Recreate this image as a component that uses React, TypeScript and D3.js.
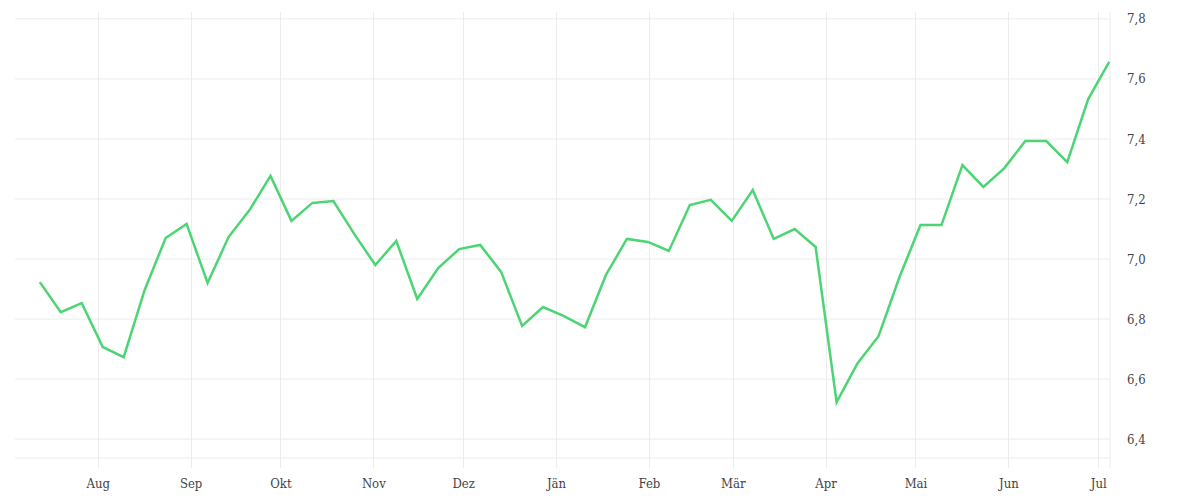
import * as d3 from 'd3'

// weekly readings, Jul 2022 – Jul 2023
const dates = [
  '2022-07-12', '2022-07-19', '2022-07-26', '2022-08-02', '2022-08-09', '2022-08-16', '2022-08-23', '2022-08-30',
  '2022-09-06', '2022-09-13', '2022-09-20', '2022-09-27', '2022-10-04', '2022-10-11', '2022-10-18', '2022-10-25',
  '2022-11-01', '2022-11-08', '2022-11-15', '2022-11-22', '2022-11-29', '2022-12-06', '2022-12-13', '2022-12-20',
  '2022-12-27', '2023-01-03', '2023-01-10', '2023-01-17', '2023-01-24', '2023-01-31', '2023-02-07', '2023-02-14',
  '2023-02-21', '2023-02-28', '2023-03-07', '2023-03-14', '2023-03-21', '2023-03-28', '2023-04-04', '2023-04-11',
  '2023-04-18', '2023-04-25', '2023-05-02', '2023-05-09', '2023-05-16', '2023-05-23', '2023-05-30', '2023-06-06',
  '2023-06-13', '2023-06-20', '2023-06-27', '2023-07-04',
]

const values = [
  6.923, 6.823, 6.853, 6.707, 6.673, 6.897, 7.07, 7.117,
  6.92, 7.073, 7.163, 7.277, 7.127, 7.187, 7.193, 7.083,
  6.98, 7.06, 6.867, 6.97, 7.033, 7.047, 6.957, 6.777,
  6.84, 6.81, 6.773, 6.947, 7.067, 7.057, 7.027, 7.18,
  7.197, 7.127, 7.23, 7.067, 7.1, 7.04, 6.523, 6.653,
  6.743, 6.94, 7.113, 7.113, 7.313, 7.24, 7.303, 7.393,
  7.393, 7.323, 7.533, 7.657,
]

const monthTicks = [
  '2022-08-01', '2022-09-01', '2022-10-01', '2022-11-01', '2022-12-01', '2023-01-01',
  '2023-02-01', '2023-03-01', '2023-04-01', '2023-05-01', '2023-06-01', '2023-07-01',
]
const monthLabels = ['Aug', 'Sep', 'Okt', 'Nov', 'Dez', 'Jän', 'Feb', 'Mär', 'Apr', 'Mai', 'Jun', 'Jul']

const yTicks = [6.4, 6.6, 6.8, 7.0, 7.2, 7.4, 7.6, 7.8]

const W = 1200
const H = 500
const FONT = '"DejaVu Serif Condensed", "DejaVu Serif", serif'
const GRID = '#ececec'

export default function App() {
  const parse = d3.timeParse('%Y-%m-%d')
  // readings sit at midday
  const data = dates.map((d, i) => ({ date: d3.timeHour.offset(parse(d)!, 12), value: values[i] }))

  const left = 15, right = 1110, top = 12, bottom = 458

  const x = d3.scaleTime()
    .domain([new Date(2022, 6, 4, 5), new Date(2023, 6, 4, 18, 30)])
    .range([left, right])
  const y = d3.scaleLinear()
    .domain([6.337, 7.823])
    .range([bottom, top])

  const line = d3.line<{ date: Date; value: number }>()
    .x(d => x(d.date))
    .y(d => y(d.value))

  const fmt = (v: number) => v.toFixed(1).replace('.', ',')

  return (
    <div style={{ position: 'absolute', left: 0, top: 0 }}>
      <svg width={W} height={H} style={{ display: 'block', background: '#fff' }}>
        {/* horizontal grid */}
        {yTicks.map(t => (
          <line key={t} x1={left} x2={right} y1={y(t)} y2={y(t)} stroke={GRID} strokeWidth={1} />
        ))}
        <line x1={left} x2={right} y1={bottom} y2={bottom} stroke={GRID} strokeWidth={1} />

        {/* vertical grid */}
        {monthTicks.map(t => {
          const px = Math.floor(x(parse(t)!)) + 0.5
          return <line key={t} x1={px} x2={px} y1={top} y2={bottom + 10} stroke={GRID} strokeWidth={1} />
        })}
        <line x1={right} x2={right} y1={top} y2={bottom + 10} stroke={GRID} strokeWidth={1} />

        {/* series */}
        <path d={line(data) ?? ''} fill="none" stroke="#4cd475" strokeWidth={2.5} strokeLinejoin="miter" />

        {/* y labels, right side */}
        {yTicks.map(t => (
          <text key={t} x={1127} y={y(t)} dy="0.35em" fontFamily={FONT} fontSize={13} fill="#444">
            {fmt(t)}
          </text>
        ))}

        {/* month labels */}
        {monthTicks.map((t, i) => (
          <text key={t} x={x(parse(t)!)} y={488} textAnchor="middle" fontFamily={FONT} fontSize={13} fill="#444">
            {monthLabels[i]}
          </text>
        ))}
      </svg>
    </div>
  )
}
